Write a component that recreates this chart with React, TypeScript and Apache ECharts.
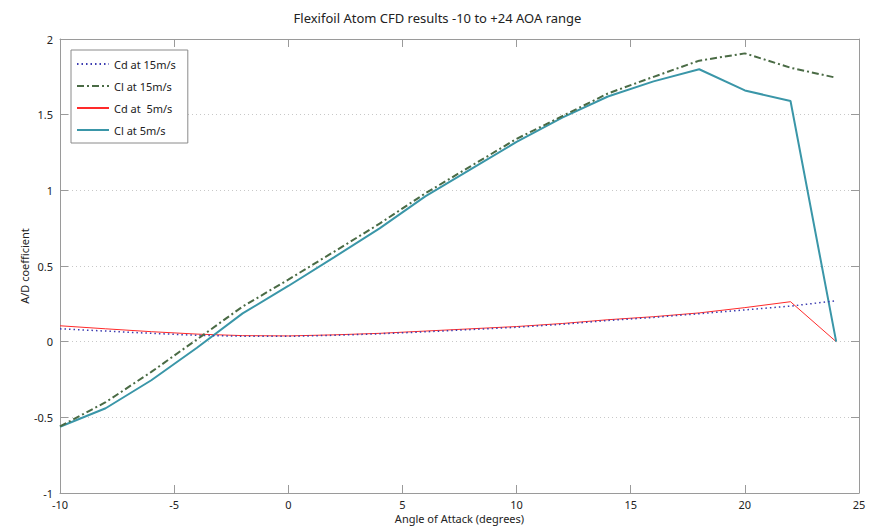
import React, { useEffect, useRef } from "react";
import * as echarts from "echarts";

const angles = [-10, -8, -6, -4, -2, 0, 2, 4, 6, 8, 10, 12, 14, 16, 18, 20, 22, 24];
const cd15 = [0.085, 0.07, 0.055, 0.042, 0.036, 0.035, 0.042, 0.052, 0.065, 0.08, 0.095, 0.115, 0.14, 0.16, 0.185, 0.21, 0.235, 0.27];
const cl15 = [-0.56, -0.4, -0.2, 0.015, 0.232, 0.41, 0.594, 0.78, 0.98, 1.16, 1.34, 1.49, 1.64, 1.75, 1.857, 1.905, 1.81, 1.744];
const cd5 = [0.105, 0.085, 0.066, 0.05, 0.04, 0.038, 0.045, 0.055, 0.07, 0.085, 0.1, 0.12, 0.145, 0.165, 0.19, 0.225, 0.264, 0.0];
const cl5 = [-0.562, -0.44, -0.255, -0.04, 0.187, 0.368, 0.557, 0.749, 0.96, 1.14, 1.32, 1.48, 1.62, 1.72, 1.8, 1.66, 1.59, 0.0];
const seriesNames = ["Cd at 15m/s", "Cl at 15m/s", "Cd at  5m/s", "Cl at 5m/s"];
const xTicks = { min: -10, max: 25, interval: 5 };
const yTicks = { min: -1, max: 2, interval: 0.5 };

const FONT = "'Noto Sans', 'Liberation Sans', sans-serif";

export default function App() {
  const ref = useRef<HTMLDivElement>(null);
  useEffect(() => {
    if (!ref.current) return;
    const chart = echarts.init(ref.current, null, { renderer: "svg" });
    const pts = (ys: number[]) => angles.map((a, i) => [a, ys[i]]);
    const axisLine = { show: true, onZero: false, lineStyle: { color: "#9a9a9a", width: 1 } };
    const tick = { show: true, inside: true, length: 8, lineStyle: { color: "#9a9a9a" } };
    const label = { color: "#222", fontSize: 11, fontFamily: FONT };
    chart.setOption({
      animation: false,
      backgroundColor: "#fff",
      title: {
        text: "Flexifoil Atom CFD results -10 to +24 AOA range",
        left: "center",
        top: 6,
        textStyle: { fontSize: 13, fontWeight: "normal", color: "#222", fontFamily: FONT },
      },
      grid: { left: 60, right: 16, top: 39, bottom: 36, containLabel: false },
      legend: {
        orient: "vertical",
        left: 71,
        top: 50,
        itemWidth: 32,
        itemHeight: 14,
        itemGap: 8,
        padding: [7, 12, 6, 5],
        backgroundColor: "#fff",
        borderColor: "#8a8a8a",
        borderWidth: 1,
        itemStyle: { opacity: 0 },
        textStyle: { fontSize: 11, color: "#222", fontFamily: FONT, lineHeight: 14 },
        data: seriesNames,
      },
      xAxis: [
        {
          type: "value",
          position: "bottom",
          ...xTicks,
          axisLine,
          axisTick: tick,
          splitLine: { show: false },
          axisLabel: { ...label, margin: 6 },
          name: "Angle of Attack (degrees)",
          nameLocation: "middle",
          nameGap: 20,
          nameMoveOverlap: false,
          nameTextStyle: { fontSize: 11, color: "#222", fontFamily: FONT },
        },
        {
          type: "value",
          position: "top",
          ...xTicks,
          axisLine,
          axisTick: tick,
          splitLine: { show: false },
          axisLabel: { show: false },
        },
      ],
      yAxis: [
        {
          type: "value",
          position: "left",
          ...yTicks,
          axisLine,
          axisTick: tick,
          splitLine: { show: true, lineStyle: { color: "#c8c8c8", type: [1, 3] } },
          axisLabel: { ...label, margin: 7 },
          name: "A/D coefficient",
          nameLocation: "middle",
          nameGap: 30,
          nameMoveOverlap: false,
          nameTextStyle: { fontSize: 11, color: "#222", fontFamily: FONT },
        },
        {
          type: "value",
          position: "right",
          ...yTicks,
          axisLine,
          axisTick: tick,
          splitLine: { show: false },
          axisLabel: { show: false },
        },
      ],
      series: [
        {
          name: seriesNames[0],
          type: "line",
          data: pts(cd15),
          showSymbol: false,
          symbol: "none",
          lineStyle: { color: "#3b3bb0", width: 1.5, type: [1.5, 3] },
          itemStyle: { color: "#3b3bb0" },
          z: 3,
        },
        {
          name: seriesNames[1],
          type: "line",
          data: pts(cl15),
          showSymbol: false,
          symbol: "none",
          lineStyle: { color: "#4a6b45", width: 2, type: [7, 3, 2, 3] },
          itemStyle: { color: "#4a6b45" },
          z: 3,
        },
        {
          name: seriesNames[2],
          type: "line",
          data: pts(cd5),
          showSymbol: false,
          symbol: "none",
          lineStyle: { color: "#ff2a2a", width: 1 },
          itemStyle: { color: "#ff2a2a" },
          z: 2,
        },
        {
          name: seriesNames[3],
          type: "line",
          data: pts(cl5),
          showSymbol: false,
          symbol: "none",
          lineStyle: { color: "#3a96a8", width: 2 },
          itemStyle: { color: "#3a96a8" },
          z: 2,
        },
      ],
    });
    return () => chart.dispose();
  }, []);
  return <div ref={ref} style={{ width: 875, height: 529, position: "absolute", left: 0, top: 0 }} />;
}
